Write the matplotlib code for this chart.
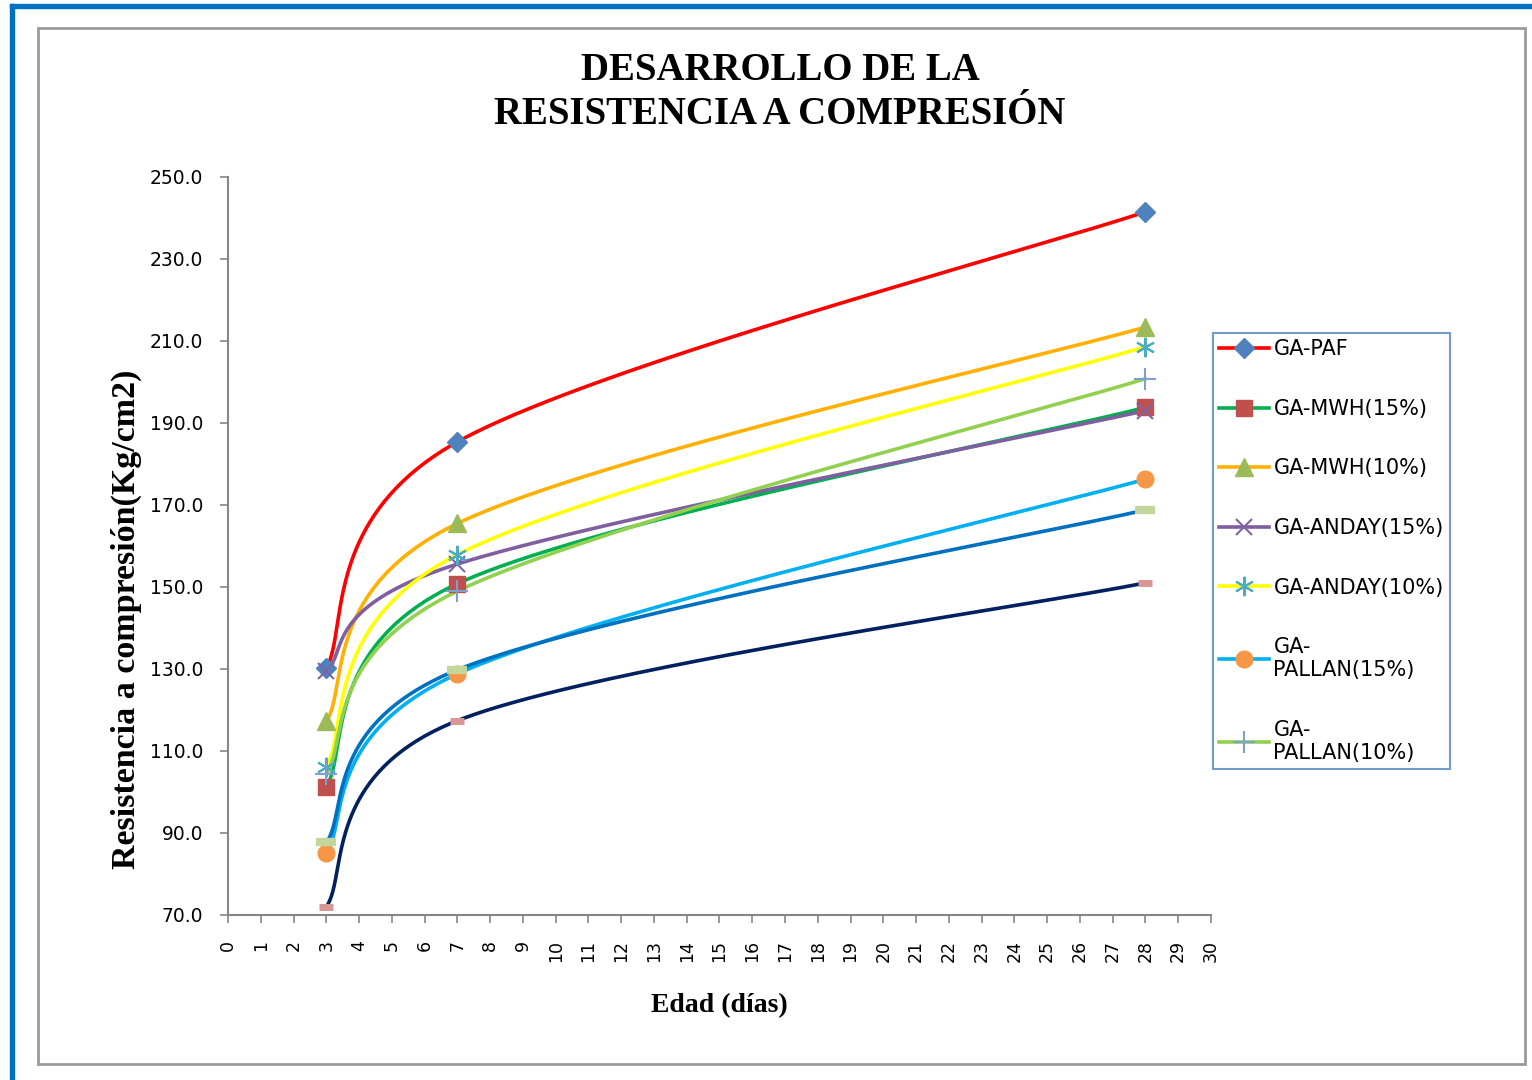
import numpy as np
import matplotlib.pyplot as plt
from matplotlib.patches import Rectangle
from matplotlib.lines import Line2D

# compressive strength (kg/cm2) at 3, 7 and 28 days
edad = [3, 7, 28]
ga_paf = [130.2, 185.4, 241.5]
ga_mwh15 = [101.3, 150.8, 193.8]
ga_mwh10 = [117.2, 165.5, 213.4]
ga_anday15 = [129.6, 155.6, 193.0]
ga_anday10 = [106.0, 157.9, 208.6]
ga_pallan15 = [85.2, 128.8, 176.3]
ga_pallan10 = [104.5, 149.0, 200.8]
# two more mixes plotted without a legend entry
ga_extra1 = [87.7, 129.8, 168.8]
ga_extra2 = [72.0, 117.4, 151.0]

labels = ['GA-PAF', 'GA-MWH(15%)', 'GA-MWH(10%)', 'GA-ANDAY(15%)',
          'GA-ANDAY(10%)', 'GA-\nPALLAN(15%)', 'GA-\nPALLAN(10%)']
xticks = list(range(0, 31))
yticks = [70, 90, 110, 130, 150, 170, 190, 210, 230, 250]


def smooth(xs, ys, n=80):
    """Excel-style smoothed line: cubic Bezier segments, Catmull-Rom controls"""
    p = np.column_stack([xs, ys]).astype(float)
    p = np.vstack([p[0], p, p[-1]])
    t = np.linspace(0, 1, n)[:, None]
    out = []
    for i in range(1, len(p) - 2):
        a, b = p[i], p[i + 1]
        c1 = a + (p[i + 1] - p[i - 1]) / 6
        c2 = b - (p[i + 2] - p[i]) / 6
        seg = ((1 - t) ** 3) * a + 3 * ((1 - t) ** 2) * t * c1 \
            + 3 * (1 - t) * t ** 2 * c2 + t ** 3 * b
        out.append(seg)
    out = np.vstack(out)
    return out[:, 0], out[:, 1]


series = [
    (ga_paf, '#FF0000', dict(marker='D', mfc='#4F81BD', mec='#4F81BD', ms=10)),
    (ga_mwh15, '#00B050', dict(marker='s', mfc='#C0504D', mec='#C0504D', ms=12)),
    (ga_mwh10, '#FFB000', dict(marker='^', mfc='#9BBB59', mec='#9BBB59', ms=13)),
    (ga_anday15, '#7F5FA0', dict(marker='x', mfc='none', mec='#8064A2', ms=12, mew=1.5)),
    (ga_anday10, '#FFFF00', dict(marker=(6, 2, 0), mfc='none', mec='#4BACC6', ms=14, mew=1.5)),
    (ga_pallan15, '#00B0F0', dict(marker='o', mfc='#F79646', mec='#F79646', ms=12)),
    (ga_pallan10, '#92D050', dict(marker='+', mfc='none', mec='#7F9FCF', ms=16, mew=1.5)),
]
extras = [
    (ga_extra1, '#0070C0', dict(marker='_', mec='#C3D69B', ms=15, mew=6)),
    (ga_extra2, '#002060', dict(marker='_', mec='#D99694', ms=10, mew=5)),
]

fig = plt.figure(figsize=(15.32, 10.8), dpi=100)

# outer page border and chart area frame
fig.patches.append(Rectangle((10 / 1532, 0), 4 / 1532, 1 - 4 / 1080,
                             transform=fig.transFigure, color='#0070C0', zorder=0))
fig.patches.append(Rectangle((10 / 1532, 1 - 8 / 1080), 1, 4 / 1080,
                             transform=fig.transFigure, color='#0070C0', zorder=0))
fig.patches.append(Rectangle((38 / 1532, 1 - 1064 / 1080), 1487 / 1532, 1036 / 1080,
                             transform=fig.transFigure, fill=False, ec='#9A9A9A',
                             lw=2, zorder=0))

ax = fig.add_axes([228 / 1532, 1 - 915 / 1080, 983 / 1532, 738 / 1080])

handles = []
for vals, col, mk in series + extras:
    sx, sy = smooth(edad, vals)
    ax.plot(sx, sy, color=col, lw=2.6, solid_capstyle='round', zorder=2)
    ax.plot(edad, vals, ls='none', zorder=3, **mk)
    handles.append(Line2D([], [], color=col, lw=2.6, **mk))

ax.set_xlim(0, 30)
ax.set_ylim(70, 250)
ax.set_xticks(xticks)
ax.set_xticklabels([str(v) for v in xticks], rotation=90, fontsize=12.5,
                   family='DejaVu Sans')
ax.set_yticks(yticks)
ax.set_yticklabels(['%.1f' % v for v in yticks], fontsize=13.5, family='DejaVu Sans')
ax.tick_params(axis='both', direction='out', length=6, width=1.2, color='#868686',
               pad=12)
for side in ['top', 'right']:
    ax.spines[side].set_visible(False)
for side in ['left', 'bottom']:
    ax.spines[side].set_color('#868686')
    ax.spines[side].set_linewidth(1.5)

ax.set_xlabel('Edad (días)', family='Liberation Serif', fontweight='bold',
              fontsize=20, labelpad=22)
ax.set_ylabel('Resistencia a compresión(Kg/cm2)', family='Liberation Serif',
              fontweight='bold', fontsize=24.5)
ax.yaxis.set_label_coords(-0.0875, 0.401)

fig.text(780 / 1532, 1 - 93 / 1080, 'DESARROLLO DE LA\nRESISTENCIA A COMPRESIÓN',
         ha='center', va='center', family='Liberation Serif', fontweight='bold',
         fontsize=28, linespacing=1.25)

leg = ax.legend(handles[:7], labels, loc='upper left',
                bbox_to_anchor=(1213 / 1532, 1 - 333 / 1080),
                bbox_transform=fig.transFigure, frameon=True, fancybox=False,
                prop={'family': 'DejaVu Sans', 'size': 15}, handlelength=2.4,
                handletextpad=0.2, labelspacing=1.9, borderpad=0.3,
                borderaxespad=0, numpoints=1)
leg.get_frame().set_edgecolor('#4F81BD')
leg.get_frame().set_linewidth(1.5)

fig.savefig('out.png', dpi=100)
